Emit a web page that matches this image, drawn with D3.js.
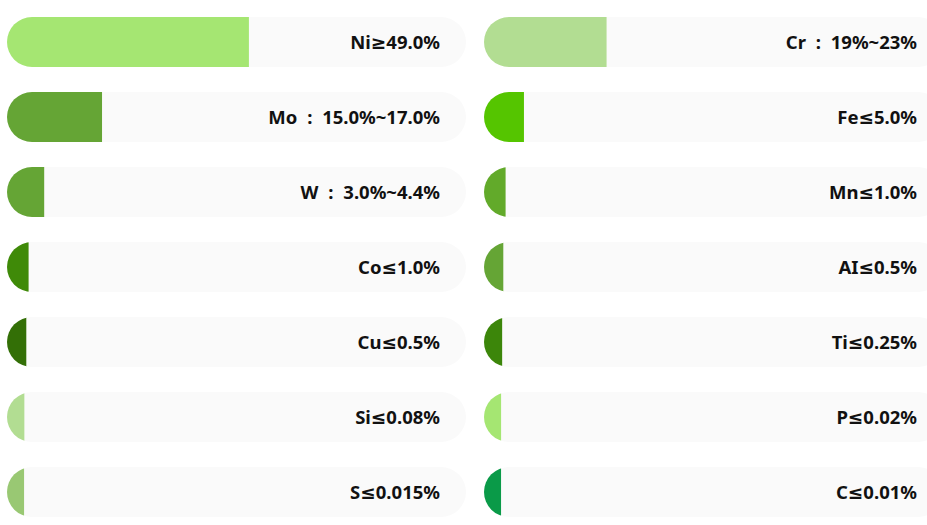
<!DOCTYPE html>
<html><head><meta charset="utf-8">
<script src="https://cdn.jsdelivr.net/npm/d3@7"></script>
<style>html,body{margin:0;padding:0;background:#fff;overflow:hidden}</style>
</head><body><svg id="c" width="927" height="525"></svg>
<script>
const leftLabels = ["Ni≥49.0%","Mo : 15.0%~17.0%","W : 3.0%~4.4%","Co≤1.0%","Cu≤0.5%","Si≤0.08%","S≤0.015%"];
const leftValues = [49, 17, 4.4, 1.0, 0.5, 0.08, 0.015];
const leftColors = ["#a5e672","#65a535","#65a535","#3f8a08","#336f06","#b2dd92","#99c873"];
const rightLabels = ["Cr : 19%~23%","Fe≤5.0%","Mn≤1.0%","AI≤0.5%","Ti≤0.25%","P≤0.02%","C≤0.01%"];
const rightValues = [23, 5.0, 1.0, 0.5, 0.25, 0.02, 0.01];
const rightColors = ["#b2dd92","#55c500","#62aa2a","#65a535","#3c860a","#a5e672","#0a9a48"];

const svg = d3.select("#c");
const trackW = 459, barH = 50, rowStep = 75, topY = 17, minW = 17, rad = 25;
const x = d3.scaleLinear().domain([0,100]).range([0, trackW]);
const y = d3.scaleLinear().domain([0,1]).range([topY, topY+rowStep]);

const cols = [
  {x0: 7, labels: leftLabels, values: leftValues, colors: leftColors},
  {x0: 484, labels: rightLabels, values: rightValues, colors: rightColors}
];
const defs = svg.append("defs");
cols.forEach((c, ci) => {
  c.values.forEach((v, i) => {
    const id = `clip${ci}_${i}`;
    defs.append("clipPath").attr("id", id)
      .append("rect").attr("x", c.x0).attr("y", y(i)).attr("width", trackW).attr("height", barH).attr("rx", rad).attr("ry", rad);
    svg.append("rect").attr("x", c.x0).attr("y", y(i)).attr("width", trackW).attr("height", barH)
      .attr("rx", rad).attr("ry", rad).attr("fill", "#fafafa");
    svg.append("rect").attr("clip-path", `url(#${id})`)
      .attr("x", c.x0).attr("y", y(i)).attr("width", minW + x(v)).attr("height", barH)
      .attr("fill", c.colors[i]);
    svg.append("text").attr("x", c.x0 + trackW - 26).attr("y", y(i) + barH/2)
      .attr("dy", "0.36em").attr("text-anchor", "end")
      .attr("font-family", "'Noto Sans', 'DejaVu Sans', sans-serif")
      .attr("font-weight", "bold").attr("font-size", 18.5).attr("fill", "#111")
      .attr("word-spacing", 5)
      .text(c.labels[i]);
  });
});
</script></body></html>
